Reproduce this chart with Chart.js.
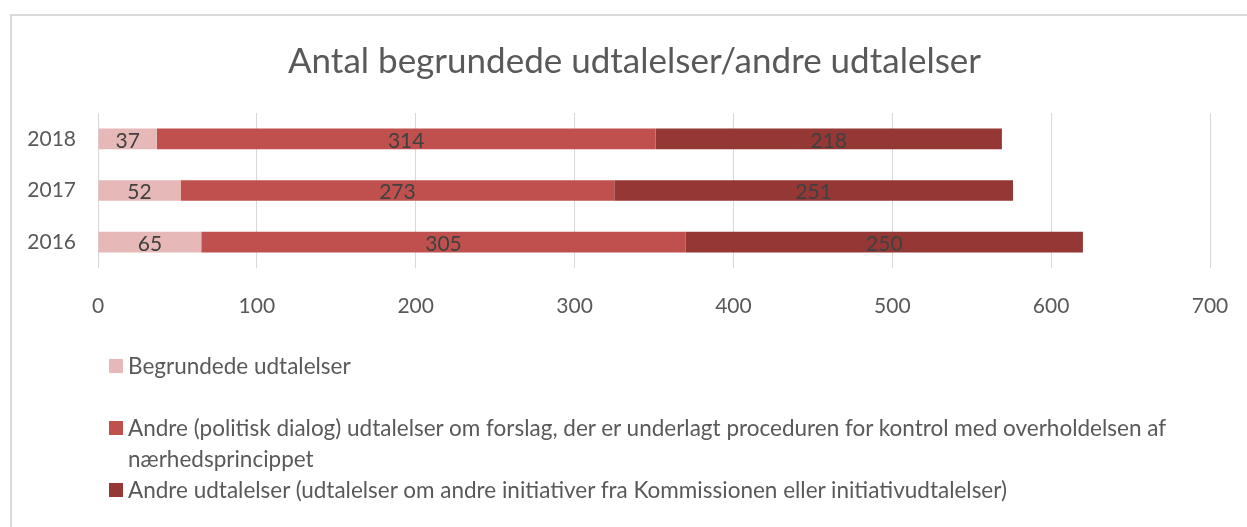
<!DOCTYPE html>
<html>
<head>
<meta charset="utf-8">
<script src="https://cdn.jsdelivr.net/npm/chart.js@4"></script>
<style>
  body { margin: 0; background: #fff; }
  #wrap { position: relative; width: 1247px; height: 527px; overflow: hidden; font-family: Lato, sans-serif; }
  #frame { position: absolute; left: 10px; top: 14px; width: 1300px; height: 600px; border: 2px solid #D9D9D9; }
  #chart { position: absolute; left: 0; top: 0; }
  #title { position: absolute; left: 0; width: 1269px; top: 37px; text-align: center; color: #595959; font-size: 35px; line-height: 44px; }
  #legend { position: absolute; left: 109px; top: 0; width: 1080px; color: #595959; font-size: 22.5px; line-height: 31px; }
  .item { position: absolute; left: 0; display: flex; width: 1080px; }
  .box { flex: 0 0 14px; width: 14px; height: 14px; margin-top: 9px; margin-right: 5px; }
</style>
</head>
<body>
<div id="wrap">
  <div id="frame"></div>
  <canvas id="chart" width="1247" height="527"></canvas>
  <div id="title">Antal begrundede udtalelser/andre udtalelser</div>
  <div id="legend"></div>
</div>
<script>
const years = ["2018", "2017", "2016"];
const begrundede = [37, 52, 65];
const politisk = [314, 273, 305];
const andre = [218, 251, 250];
const seriesNames = [
  "Begrundede udtalelser",
  "Andre (politisk dialog) udtalelser om forslag, der er underlagt proceduren for kontrol med overholdelsen af nærhedsprincippet",
  "Andre udtalelser (udtalelser om andre initiativer fra Kommissionen eller initiativudtalelser)"
];
const colors = ["#E6B9B8", "#C0504D", "#953735"];
const xTicks = [0, 100, 200, 300, 400, 500, 600, 700];

// value labels in the middle of each segment
const barLabels = {
  id: "barLabels",
  afterDatasetsDraw(chart) {
    const ctx = chart.ctx;
    ctx.save();
    ctx.font = "21px Lato";
    ctx.fillStyle = "#404040";
    ctx.textAlign = "center";
    ctx.textBaseline = "middle";
    chart.data.datasets.forEach((ds, i) => {
      chart.getDatasetMeta(i).data.forEach((bar, j) => {
        ctx.fillText(ds.data[j], (bar.x + bar.base) / 2, bar.y + 2);
      });
    });
    ctx.restore();
  }
};

new Chart(document.getElementById("chart"), {
  type: 'bar',
  data: {
    labels: years,
    datasets: [
      { label: seriesNames[0], data: begrundede, backgroundColor: colors[0] },
      { label: seriesNames[1], data: politisk, backgroundColor: colors[1] },
      { label: seriesNames[2], data: andre, backgroundColor: colors[2] }
    ]
  },
  options: {
    indexAxis: 'y',
    responsive: false,
    animation: false,
    layout: { padding: { left: 0, right: 37, top: 113, bottom: 209 } },
    datasets: { bar: { categoryPercentage: 1, barPercentage: 0.4 } },
    plugins: {
      legend: { display: false },
      tooltip: { enabled: false }
    },
    scales: {
      x: {
        stacked: true,
        min: 0,
        max: 700,
        afterBuildTicks: s => { s.ticks = xTicks.map(v => ({ value: v })); },
        afterFit: s => { s.height = 50; },
        grid: { color: '#D9D9D9', drawTicks: true, tickLength: 21, tickColor: 'rgba(0,0,0,0)' },
        border: { display: false },
        ticks: { color: '#595959', padding: 5, font: { family: 'Lato', size: 21 } }
      },
      y: {
        stacked: true,
        afterFit: s => { s.width = 98; },
        grid: { display: false, drawTicks: false },
        border: { display: false },
        ticks: { color: '#595959', padding: 22, font: { family: 'Lato', size: 21 } }
      }
    }
  },
  plugins: [barLabels]
});

const legendTops = [350, 412, 474];
const legend = document.getElementById("legend");
seriesNames.forEach((name, i) => {
  const item = document.createElement("div");
  item.className = "item";
  item.style.top = legendTops[i] + "px";
  const box = document.createElement("span");
  box.className = "box";
  box.style.background = colors[i];
  const txt = document.createElement("span");
  txt.textContent = name;
  item.appendChild(box);
  item.appendChild(txt);
  legend.appendChild(item);
});
</script>
</body>
</html>
